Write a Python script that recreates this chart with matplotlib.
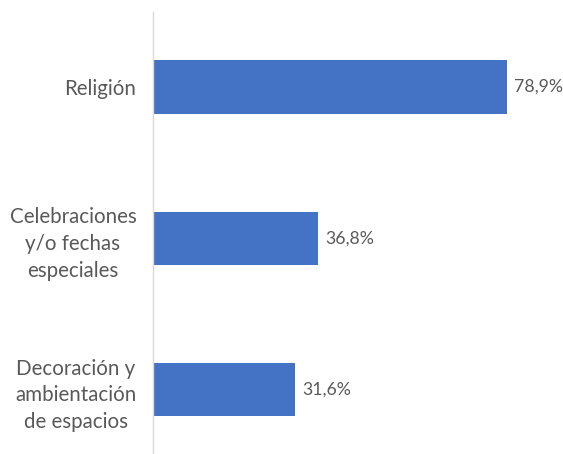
import matplotlib.pyplot as plt

categories = ["Religión", "Celebraciones\ny/o fechas\nespeciales", "Decoración y\nambientación\nde espacios"]
values = [78.9, 36.8, 31.6]
value_labels = ["78,9%", "36,8%", "31,6%"]

bar_color = "#4472C4"
text_color = "#595959"

plt.rcParams['font.family'] = ['Lato', 'DejaVu Sans']

fig = plt.figure(figsize=(5.63, 4.54), dpi=100)
ax = fig.add_axes([153 / 563, 1 / 454, 404 / 563, 441 / 454])

y = list(range(len(categories)))
ax.barh(y, values, height=0.35, color=bar_color)
ax.set_xlim(0, 90)
ax.set_ylim(2.416, -0.495)

for yi, v, lab in zip(y, values, value_labels):
    ax.text(v + 1.6, yi, lab, va='center', ha='left', fontsize=12.7, color=text_color)

ax.set_yticks(y)
ax.set_yticklabels(categories, fontsize=14.8, color=text_color, linespacing=1.42)
for t in ax.get_yticklabels():
    t.set_multialignment('center')
ax.tick_params(axis='y', length=0, pad=12)
ax.set_xticks([])

for s in ['top', 'right', 'bottom']:
    ax.spines[s].set_visible(False)
ax.spines['left'].set_color('#D9D9D9')
ax.spines['left'].set_linewidth(1)

fig.savefig("out.png", dpi=100)
